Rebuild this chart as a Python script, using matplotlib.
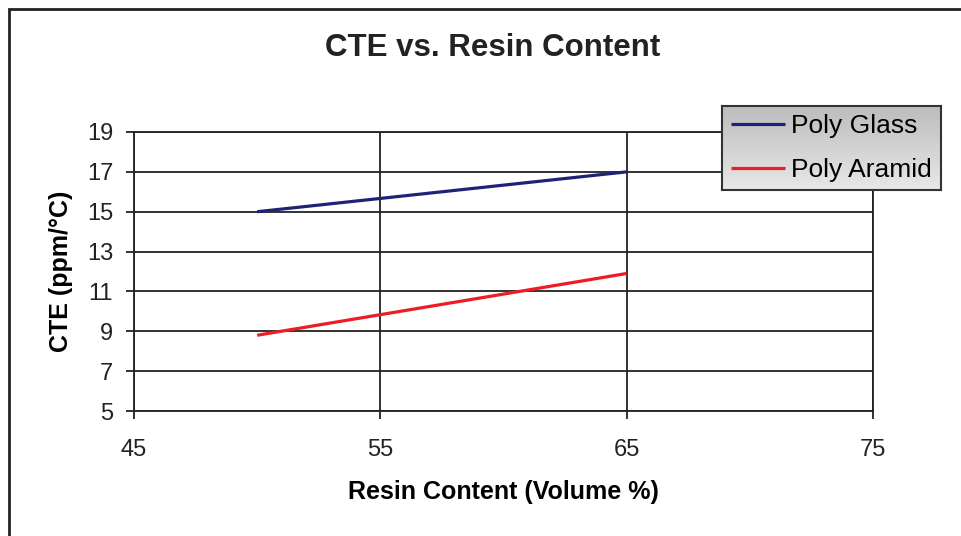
import numpy as np
import matplotlib.pyplot as plt
from matplotlib.patches import Rectangle

plt.rcParams['font.family'] = ['Liberation Sans', 'DejaVu Sans']

resin = [50, 65]
poly_glass = [15, 17]
poly_aramid = [8.8, 11.9]
xticks = [45, 55, 65, 75]
yticks = [5, 7, 9, 11, 13, 15, 17, 19]

fig = plt.figure(figsize=(9.61, 5.36), dpi=100)
ax = fig.add_axes([134/961, 1-411/536, (873-134)/961, (411-132)/536])

l1, = ax.plot(resin, poly_glass, color='#1f2277', lw=2.3, label='Poly Glass', solid_capstyle='butt')
l2, = ax.plot(resin, poly_aramid, color='#ee1c25', lw=2.3, label='Poly Aramid', solid_capstyle='butt')

ax.set_xlim(45, 75)
ax.set_ylim(5, 19)
ax.set_xticks(xticks)
ax.set_yticks(yticks)
ax.grid(True, color='#222222', lw=1.3)
for s in ax.spines.values():
    s.set_color('#222222')
    s.set_linewidth(1.3)
ax.tick_params(axis='both', labelsize=17, colors='#222222', length=6, width=1.3, pad=9)
ax.tick_params(axis='x', pad=14)
ax.set_xlabel('Resin Content (Volume %)', fontsize=18, fontweight='bold', labelpad=14)
ax.set_ylabel('CTE (ppm/°C)', fontsize=18, fontweight='bold', labelpad=10)

fig.text(493/961, 1-48/536, 'CTE vs. Resin Content', fontsize=22.5, fontweight='bold',
         ha='center', va='center', color='#222222')

# legend with grey gradient background
lax = fig.add_axes([722/961, 1-190/536, 219/961, 84/536], zorder=5)
shade = np.linspace(0.74, 0.91, 100)
grad = np.dstack([shade, shade, shade]).reshape(100, 1, 3)
lax.imshow(grad, aspect='auto', extent=[0, 1, 0, 1])
lax.set_xticks([])
lax.set_yticks([])
for s in lax.spines.values():
    s.set_color('#333333')
    s.set_linewidth(1.5)
lax.legend(handles=[l1, l2], loc='center', frameon=False, fontsize=19,
           handlelength=2.05, handletextpad=0.25, labelspacing=0.75, borderaxespad=0)

# outer chart border
fig.patches.append(Rectangle((9/961, -0.1), 1.2, 1-9/536+0.1, transform=fig.transFigure,
                             fill=False, edgecolor='#222222', lw=2, clip_on=False))

fig.savefig('out.png', dpi=100)
